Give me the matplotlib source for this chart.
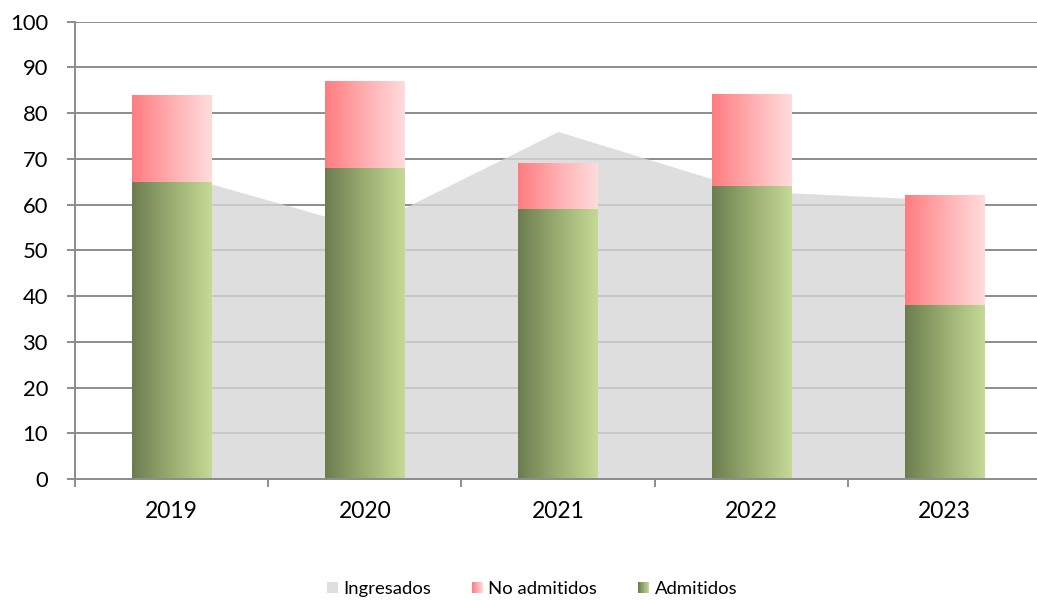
import numpy as np
import matplotlib
matplotlib.use("Agg")
import matplotlib.pyplot as plt
from matplotlib.patches import Rectangle
from matplotlib.legend_handler import HandlerPatch
from matplotlib.colors import LinearSegmentedColormap

plt.rcParams['font.family'] = ['Lato', 'DejaVu Sans']

years = ["2019", "2020", "2021", "2022", "2023"]
ingresados = [67, 55, 76, 63, 61]
admitidos = [65, 68, 59, 64, 38]
no_admitidos = [19, 19, 10, 20, 24]
y_ticks = [0, 10, 20, 30, 40, 50, 60, 70, 80, 90, 100]

green_cmap = LinearSegmentedColormap.from_list("g", ["#6b7d4f", "#9aae72", "#c5da96"])
red_cmap = LinearSegmentedColormap.from_list("r", ["#ff7c80", "#ffaeb0", "#ffdcdc"])
area_color = "#d6d6d6"
grid_color = "#8c8c8c"

W, H = 1037, 601
fig = plt.figure(figsize=(W / 100, H / 100), dpi=100)
left = 75 / W
bottom = (H - 479) / H
height = (479 - 21.7) / H
width = 5 * 193.2 / W
ax = fig.add_axes([left, bottom, width, height])

x = np.arange(len(years))
ax.fill_between(x, ingresados, 0, color=area_color, alpha=0.8, lw=0, zorder=1)

bw = 0.409
grad = np.linspace(0, 1, 256).reshape(1, -1)
bars_a = ax.bar(x, admitidos, bw, facecolor='none', edgecolor='none', zorder=2)
bars_n = ax.bar(x, no_admitidos, bw, bottom=admitidos, facecolor='none', edgecolor='none', zorder=2)
for bars, cmap in ((bars_a, green_cmap), (bars_n, red_cmap)):
    for b in bars:
        x0, y0 = b.get_x(), b.get_y()
        ax.imshow(grad, cmap=cmap, aspect='auto', interpolation='bilinear',
                  extent=(x0, x0 + b.get_width(), y0, y0 + b.get_height()),
                  zorder=2)

ax.set_xlim(-0.5, len(years) - 0.5)
ax.set_ylim(0, 100)
ax.set_yticks(y_ticks)
ax.set_yticklabels([str(v) for v in y_ticks])
ax.set_xticks(x)
ax.set_xticklabels(years)
ax.set_xticks(np.arange(-0.5, len(years) + 0.5, 1), minor=True)

for v in y_ticks[1:]:
    ax.axhline(v, color=grid_color, lw=1.4, zorder=0.5)

for s in ('top', 'right'):
    ax.spines[s].set_visible(False)
for s in ('left', 'bottom'):
    ax.spines[s].set_color(grid_color)
    ax.spines[s].set_linewidth(1.4)
    ax.spines[s].set_zorder(3)

ax.tick_params(axis='y', length=6, width=1.4, color=grid_color, pad=13.5,
               labelsize=15.8, labelcolor='black')
ax.tick_params(axis='x', which='major', length=0, pad=16, labelsize=16.5,
               labelcolor='black')
ax.tick_params(axis='x', which='minor', length=6, width=1.4, color=grid_color)


class GradHandler(HandlerPatch):
    def __init__(self, cmap, **kw):
        super().__init__(**kw)
        self.cmap = cmap

    def create_artists(self, legend, orig_handle, xdescent, ydescent, width,
                       height, fontsize, trans):
        n = 20
        arts = []
        for i in range(n):
            r = Rectangle((-xdescent + width * i / n, -ydescent), width / n * 1.05,
                          height, facecolor=self.cmap(i / (n - 1)),
                          edgecolor='none', transform=trans)
            arts.append(r)
        return arts


h_ing = Rectangle((0, 0), 1, 1, facecolor="#dfdfdf", edgecolor='none')
h_no = Rectangle((0, 0), 1, 1, facecolor="#ff9a9c", edgecolor='none')
h_ad = Rectangle((0, 0), 1, 1, facecolor="#9aae72", edgecolor='none')
leg = fig.legend([h_ing, h_no, h_ad], ["Ingresados", "No admitidos", "Admitidos"],
                 loc='center', bbox_to_anchor=(532 / W, 1 - 589 / H), ncol=3,
                 frameon=False, fontsize=13.3, handlelength=0.62, handleheight=0.62,
                 handletextpad=0.28, columnspacing=2.2,
                 handler_map={h_no: GradHandler(red_cmap), h_ad: GradHandler(green_cmap)})

fig.savefig("out.png", dpi=100)
